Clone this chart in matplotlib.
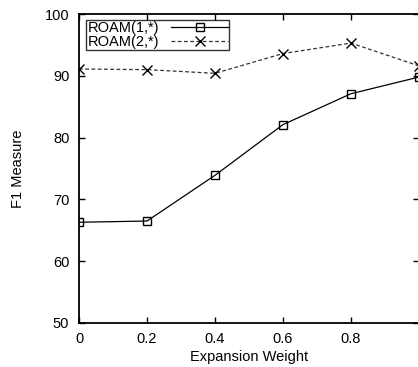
import matplotlib
matplotlib.use("Agg")
import matplotlib.pyplot as plt

plt.rcParams['font.family'] = ['Liberation Sans', 'DejaVu Sans']

weights = [0, 0.2, 0.4, 0.6, 0.8, 1.0]
roam1 = [66.3, 66.5, 73.9, 82.1, 87.1, 89.8]
roam2 = [91.1, 91.0, 90.4, 93.6, 95.3, 91.6]
xticks = [0, 0.2, 0.4, 0.6, 0.8]
yticks = [50, 60, 70, 80, 90, 100]

fig = plt.figure(figsize=(4.18, 3.67), dpi=100)
ax = fig.add_axes([79 / 418, 1 - 323 / 367, 340 / 418, 309 / 367])

ax.plot(weights, roam1, color='black', lw=0.9, marker='s', ms=6,
        mfc='none', mec='black', mew=1.0, label='ROAM(1,*)')
ax.plot(weights, roam2, color='#333333', lw=0.9, ls=(0, (3, 2)), marker='x',
        ms=6.5, mec='black', mew=1.0, label='ROAM(2,*)')

ax.set_xlim(0, 1)
ax.set_ylim(50, 100)
ax.set_xticks(xticks)
ax.set_xticklabels(['0', '0.2', '0.4', '0.6', '0.8'])
ax.set_yticks(yticks)
ax.tick_params(direction='in', length=4, width=1, labelsize=10.5,
               top=True, right=True, colors='black')
ax.tick_params(axis='x', pad=6.5)
ax.tick_params(axis='y', pad=7)
for s in ax.spines.values():
    s.set_linewidth(1.3)

ax.set_xlabel('Expansion Weight', fontsize=10.5, labelpad=3)
ax.set_ylabel('F1 Measure', fontsize=10.5, labelpad=14)

leg = ax.legend(loc='upper left', bbox_to_anchor=(0.022, 0.982),
                markerfirst=False, fancybox=False, frameon=True,
                fontsize=10.5, handlelength=3.9, borderpad=0.1,
                labelspacing=0.0, handletextpad=0.8, borderaxespad=0)
leg.get_frame().set_edgecolor('black')
leg.get_frame().set_linewidth(1.0)

fig.savefig('out.png', dpi=100)
